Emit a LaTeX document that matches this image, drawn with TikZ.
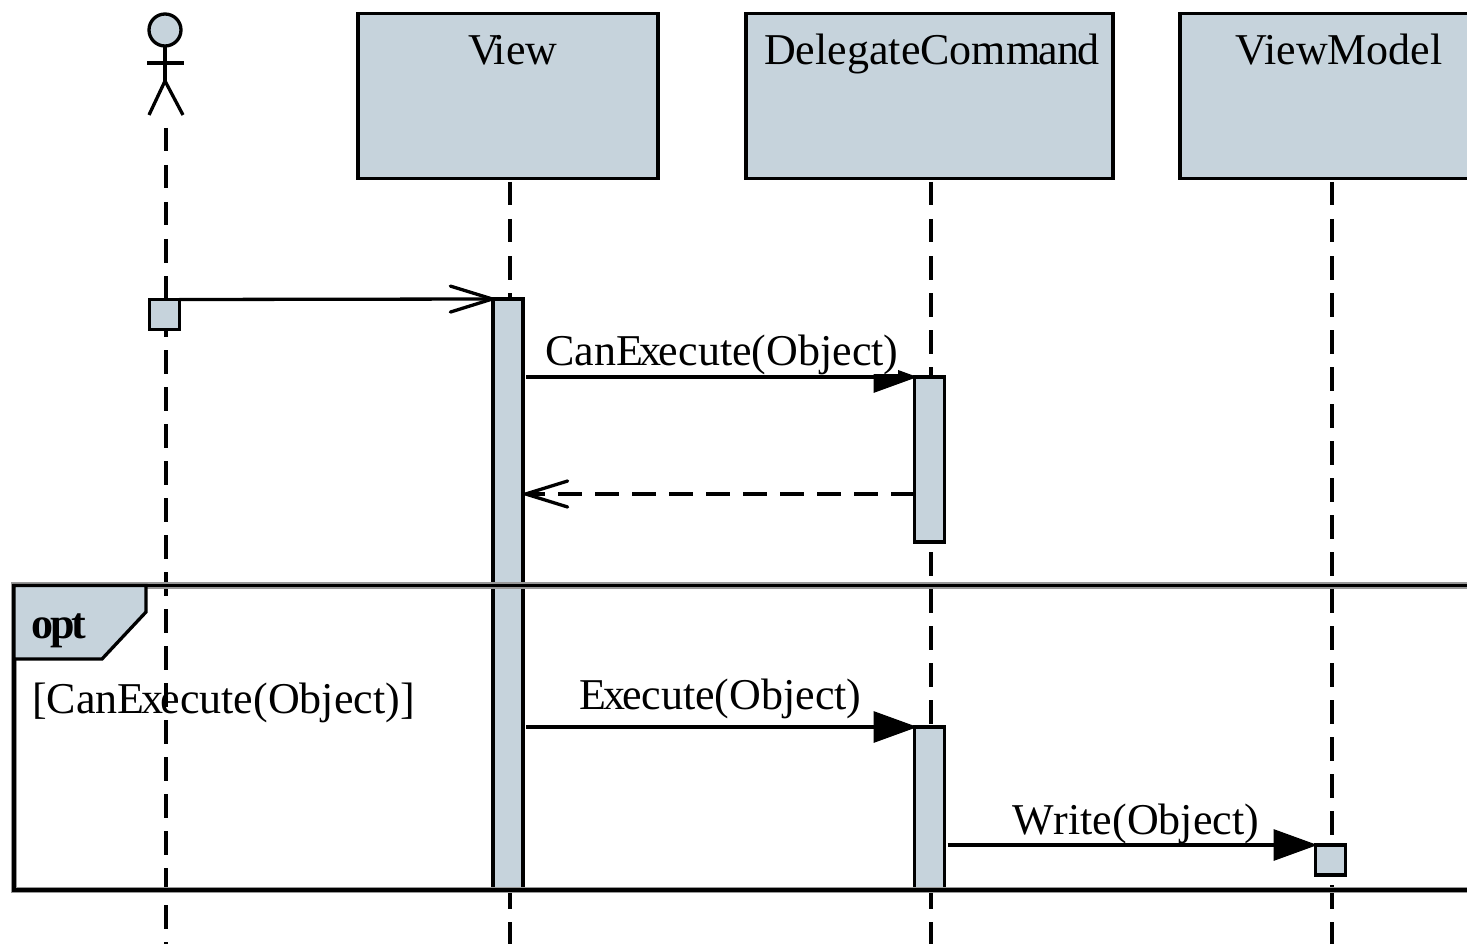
\documentclass[tikz,border=0pt]{standalone}
\usepackage{fontspec}
\setmainfont{Liberation Serif}
\usetikzlibrary{arrows.meta,positioning}
\definecolor{boxfill}{RGB}{198,211,220}
\tikzset{
  lifebox/.style={draw=black,fill=boxfill,line width=3.3pt,outer sep=0pt,inner sep=0pt},
  lifeline/.style={black,line width=3.3pt,dash pattern=on 23.5pt off 13.5pt},
  msg/.style={black,line width=3.3pt,-{Triangle[length=44pt,width=31pt]}},
  openmsg/.style={black,line width=3.3pt,-{Straight Barb[length=42pt,width=26pt,round]}},
  retmsg/.style={black,line width=3.3pt,dash pattern=on 23.5pt off 13.5pt,-{Straight Barb[length=42pt,width=26pt,round]}},
  lbl/.style={anchor=base west,inner sep=0pt,font=\fontsize{44}{44}\selectfont},
}
\begin{document}
\begin{tikzpicture}[x=1pt,y=-1pt]
\clip (0,0) rectangle (1467,944);
\coordinate (actorend) at (166,944);
\coordinate (viewend) at (510,944);
\coordinate (dcend) at (931,944);
\coordinate (vmend) at (1332,944);
\coordinate (actorstart) at (166,128);
\coordinate (retpt) at (700,494);
\draw [lifeline] (actorstart) -- (actorend);
\node [lifebox,minimum width=300pt,minimum height=165pt] (viewbox) at (508,96) {};
\node [lifebox,minimum width=367pt,minimum height=165pt] (dcbox) at (929.5,96) {};
\node [lifebox,minimum width=320pt,minimum height=165pt] (vmbox) at (1340,96) {};
\draw [lifeline] ([yshift=-3.5pt]viewbox.south -| viewend) -- (viewend);
\draw [lifeline] ([yshift=-3.5pt]dcbox.south -| dcend) -- (dcend);
\draw [lifeline] ([yshift=-3.5pt]vmbox.south -| vmend) -- (vmend);
\node [lbl] (viewlbl) at (468,65) {V\kern-6pt iew};
\node [lbl] (dclbl) at (764,65) {DelegateComm\kern-2pt an\kern-2pt d};
\node [lbl] (vmlbl) at (1235,65) {ViewModel};
\node [lifebox,circle,minimum size=32pt] (head) at (165,30) {};
\coordinate (hip) at (165,81);
\coordinate (arml) at (147,63);
\coordinate (armr) at (184,63);
\coordinate (legl) at (149,115);
\coordinate (legr) at (183,115);
\draw [black,line width=3.3pt] (head) -- (hip);
\draw [black,line width=3.3pt] (arml) -- (armr);
\draw [black,line width=3.3pt] (legl) -- (hip) -- (legr);
\node [lifebox,minimum width=30pt,minimum height=30pt] (actorbar) at (164.5,314.5) {};
\node [lifebox,minimum width=30pt,minimum height=590pt] (viewbar) at (508,594) {};
\node [lifebox,minimum width=30pt,minimum height=165pt] (dcbara) at (929.5,459.5) {};
\node [lifebox,minimum width=30pt,minimum height=162pt] (dcbarb) at (929.5,808) {};
\node [lifebox,minimum width=30pt,minimum height=30pt] (vmbar) at (1330.5,860) {};
\draw [openmsg] (actorbar.north east) -- ([xshift=1pt]viewbar.north west);
\draw [msg] ([xshift=3pt]viewbar.east |- dcbara.north) -- ([xshift=3pt]dcbara.north west);
\draw [retmsg] (dcbara.west |- retpt) -- ([xshift=1pt]viewbar.east |- retpt);
\draw [msg] ([xshift=3pt]viewbar.east |- dcbarb.north) -- ([xshift=3pt]dcbarb.north west);
\draw [msg] ([xshift=3pt]dcbarb.east |- vmbar.north) -- ([xshift=2pt]vmbar.north west);
\node [lbl,fill=white] (canlbl) at (545,365) {CanE\kern-3pt x\kern-3pt ecute(Object)};
\node [lbl] (exlbl) at (579,709) {E\kern-3pt x\kern-3pt ecute(Object)};
\node [lbl] (wrlbl) at (1012,834) {W\kern0pt rite(Object)};
\draw [black!40,line width=6.5pt] (14,585.5) -- (1500,585.5) -- (1500,890) -- (14,890) -- cycle;
\draw [black,line width=3.5pt] (14,585.5) -- (1500,585.5) -- (1500,890) -- (14,890) -- cycle;
\filldraw [draw=black,fill=boxfill,line width=3.3pt] (14,585.5) -- (146,585.5) -- (146,612) -- (102,659) -- (14,659) -- cycle;
\node [lbl,font=\fontsize{44}{44}\selectfont\bfseries] (optlbl) at (31,638) {o\kern-3pt p\kern-3pt t};
\node [lbl] (guardlbl) at (32,713) {[CanE\kern-3pt x\kern-3pt ecute(Object)]};
\end{tikzpicture}
\end{document}
